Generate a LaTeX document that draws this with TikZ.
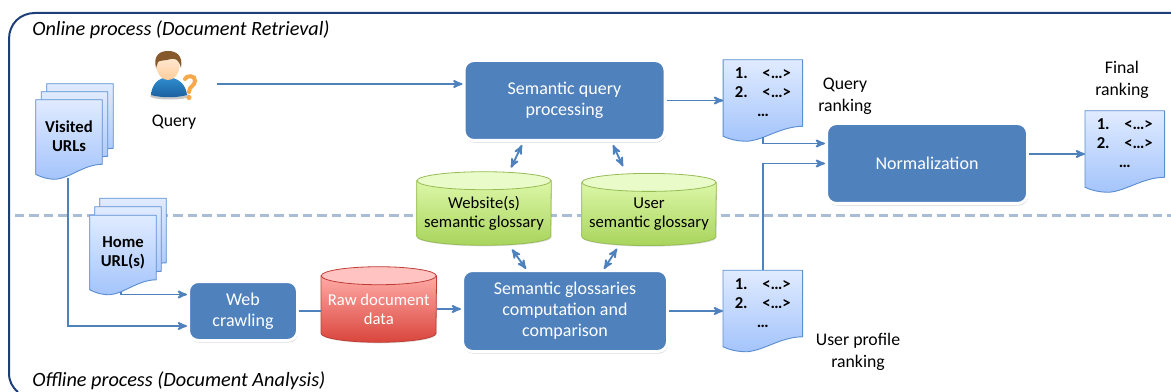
\documentclass[tikz,border=0pt]{standalone}
\usepackage{fontspec}
\setmainfont{Carlito}
\usetikzlibrary{arrows,calc,positioning,backgrounds,shadows}
\definecolor{boxblue}{HTML}{4F81BD}
\definecolor{framenavy}{HTML}{1F3F7A}
\definecolor{splitblue}{HTML}{A9BDD6}
\definecolor{pagetop}{HTML}{E0EBFF}
\definecolor{pagelow}{HTML}{A4C4FB}
\definecolor{pageline}{HTML}{5B8FD0}
\definecolor{greentop}{HTML}{DCF7A8}
\definecolor{greenlow}{HTML}{A8D45C}
\definecolor{greencap}{HTML}{E8FBC8}
\definecolor{greenline}{HTML}{98BC55}
\definecolor{redtop}{HTML}{FFABA7}
\definecolor{redlow}{HTML}{D9453C}
\definecolor{redcap}{HTML}{FFC4C1}
\definecolor{redline}{HTML}{BF3D36}
\definecolor{askerblue}{HTML}{2F8FD0}
\definecolor{askerdeep}{HTML}{1B5E9E}
\definecolor{askerorange}{HTML}{F5A94A}
\newcommand{\wavepage}[1]{%
  \begin{scope}[on background layer]
    \shadedraw[pageshade] (#1.north west) -- (#1.north east)
      -- ($(#1.south east)+(0,11.25pt)$)
      .. controls ($(#1.south west)!.72!(#1.south east)+(0,11pt)$) and ($(#1.south west)!.52!(#1.south east)+(0,1pt)$) .. ($(#1.south west)!.3!(#1.south east)$)
      .. controls ($(#1.south west)!.18!(#1.south east)$) and ($(#1.south west)!.08!(#1.south east)+(0,1.5pt)$) .. ($(#1.south west)+(0,3.75pt)$)
      -- cycle;
  \end{scope}}
\newcommand{\dbcan}[6]{%
  \begin{scope}[on background layer]
    \shadedraw[top color=#3,bottom color=#4,draw=#6,line width=.6pt,drop shadow={shadow xshift=.6pt,shadow yshift=-.8pt,opacity=.25}]
      (#1.north west) -- ($(#1.south west)+(0,6.75pt)$)
      arc[start angle=180,end angle=360,x radius=#2,y radius=6.75pt]
      -- (#1.north east) -- cycle;
    \filldraw[fill=#5,draw=#6,line width=.6pt] (#1.north) ellipse[x radius=#2,y radius=6.75pt];
  \end{scope}}
\newcommand{\ranklist}{1.\hspace{11pt}<…>\\2.\hspace{11pt}<…>\\…}
\tikzset{
  flow/.style={->,>=stealth',draw=boxblue,line width=1.4pt},
  flowtwo/.style={flow,<->},
  flowplain/.style={draw=boxblue,line width=1.4pt},
  bluebox/.style args={#1,#2}{
    rounded corners=2.6mm,
    fill=boxblue,
    draw=white,
    line width=2.25pt,
    text=white,
    align=center,
    font=\fontsize{13.5}{15.75}\selectfont,
    minimum width=#1pt,
    minimum height=#2pt,
    drop shadow={shadow xshift=.6pt,shadow yshift=-1.6pt,opacity=.3}
  },
  pageshade/.style={top color=pagetop,bottom color=pagelow,draw=pageline,line width=.7pt},
  pagenode/.style args={#1,#2}{
    inner sep=0pt,
    align=center,
    font=\fontsize{12.5}{14.25}\selectfont\bfseries,
    minimum width=#1pt,
    minimum height=#2pt
  },
  ranknode/.style={pagenode={59.25,60.75},text depth=12pt},
  stacknode/.style={pagenode={49.5,59.25},text depth=5.5pt},
  cannode/.style args={#1,#2}{
    inner sep=0pt,
    align=center,
    font=\fontsize{12.5}{14.25}\selectfont,
    minimum width=#1pt,
    minimum height=#2pt
  },
  caption/.style={align=center,inner sep=0pt,font=\fontsize{13.3}{16.5}\selectfont},
  zonelabel/.style={anchor=west,inner sep=0pt,font=\fontsize{15.2}{18}\selectfont\itshape}
}
\begin{document}
\begin{tikzpicture}[x=0.75pt,y=-0.75pt]
  \useasboundingbox (0,0) rectangle (1171,392);

  % frame and split line
  \begin{scope}[on background layer]
    \draw[framenavy,line width=1.5pt] (1171,13) -- (35,13)
      .. controls (20,13) and (9,24) .. (9,39) -- (9,373)
      .. controls (9,381) and (12,387) .. (18,392);
    \draw[splitblue,line width=2.25pt,dash pattern=on 7pt off 3.8pt] (15,216) -- (1171,216);
  \end{scope}

  \node [zonelabel] (online) at (32,30) {Online process (Document Retrieval)};
  \node [zonelabel] (offline) at (32,381) {Offline process (Document Analysis)};

  % boxes
  \node [bluebox={150.75,60}] (qbox) at (564.5,100.5) {Semantic query\\processing};
  \node [bluebox={150.75,60}] (nbox) at (927,163.5) {Normalization};
  \node [bluebox={153.75,60.75}] (cbox) at (565,311) {Semantic glossaries\\computation and\\comparison};
  \node [bluebox={81.75,44.25}] (crawl) at (243,311) {Web\\crawling};

  % cans
  \node [cannode={86.25,49.5},text=white,right=16.5pt of crawl,yshift=1.5pt] (raw) {Raw document\\data};
  \node [cannode={100.5,48}] (wgloss) at (484,213) {Website(s)\\semantic glossary};
  \node [cannode={100.5,47}] (ugloss) at (649,214) {User\\semantic glossary};
  \dbcan{raw}{43.1pt}{redtop}{redlow}{redcap}{redline}
  \dbcan{wgloss}{50.25pt}{greentop}{greenlow}{greencap}{greenline}
  \dbcan{ugloss}{50.25pt}{greentop}{greenlow}{greencap}{greenline}

  % rankings
  \node [ranknode,right=42.5pt of qbox] (qrank) {\ranklist};
  \node [ranknode,right=42pt of nbox,yshift=9pt] (frank) {\ranklist};
  \node [ranknode,right=40.5pt of cbox] (urank) {\ranklist};
  \wavepage{qrank}
  \wavepage{frank}
  \wavepage{urank}

  % stacked pages
  \node [stacknode] (vback) at (80,123.5) {};
  \node [stacknode] (vmid) at (74.5,131.5) {};
  \node [stacknode] (visited) at (69,139.5) {Visited\\URLs};
  \node [stacknode] (hback) at (133,238) {};
  \node [stacknode] (hmid) at (128,246.5) {};
  \node [stacknode] (home) at (123,255) {Home\\URL(s)};
  \wavepage{vback}
  \wavepage{vmid}
  \wavepage{visited}
  \wavepage{hback}
  \wavepage{hmid}
  \wavepage{home}

  % asker
  \fill[black!22] (170,96) ellipse[x radius=20,y radius=3.5];
  \shade[top color=askerblue,bottom color=askerdeep] (151,95)
    .. controls (152,84) and (158,78) .. (168,77) .. controls (178,78) and (186,84) .. (187,95)
    .. controls (176,98) and (162,98) .. (151,95) -- cycle;
  \shade[top color=orange!12,bottom color=orange!40] (168,66) ellipse[x radius=11.5,y radius=14];
  \fill[brown!70!black] (156,68) .. controls (153,55) and (160,51) .. (168,51)
    .. controls (177,51) and (183,56) .. (181,68) .. controls (179,60) and (176,58) .. (171,59)
    .. controls (165,61) and (160,60) .. (158,62) -- cycle;
  \draw[askerorange,line width=3pt,line cap=round] (185,79)
    .. controls (186,75) and (196,75) .. (195,81) .. controls (195,86) and (189,86) .. (189,92);
  \fill[askerorange] (189,97.5) circle[radius=2.6];

  \node [caption] (qlabel) at (174,122) {Query};
  \node [caption] (qcap) at (845,96) {Query\\ranking};
  \node [caption] (fcap) at (1122,79.5) {Final\\ranking};
  \node [caption] (ucap) at (858,352) {User profile\\ranking};

  % connectors
  \coordinate (qstart) at (217,84);
  \coordinate (qrankout) at ($(qrank.south)+(0,-4)$);
  \coordinate (homeout) at ($(home.south)+(-2,-3)$);
  \coordinate (visitout) at ($(visited.south)+(-1,-1)$);
  \coordinate (nin) at ($(nbox.west)+(0,-20)$);
  \coordinate (nout) at ($(nbox.east)+(0,-9.5)$);
  \coordinate (cin1) at ($(crawl.west)+(0,-16.5)$);
  \coordinate (cin2) at ($(crawl.west)+(0,15)$);

  \draw [flow] (qstart) -- (qstart -| qbox.west);
  \draw [flow] (qbox.east) -- (qbox.east -| qrank.west);
  \draw [flow] (qrankout) |- (nin);
  \draw [flow] (urank.north) |- (nbox.west);
  \draw [flow] (nout) -- (nout -| frank.west);
  \draw [flow] (visitout) |- (cin2);
  \draw [flow] (homeout) |- (cin1);
  \draw [flowplain] (crawl.east) -- (crawl.east -| raw.west);
  \draw [flow] (raw.east) -- (raw.east -| cbox.west);
  \draw [flow] (cbox.east) -- (cbox.east -| urank.west);

  \draw [flowtwo] ($(qbox.south)+(-42.5,3)$) -- ($(wgloss.north)+(27,-13)$);
  \draw [flowtwo] ($(qbox.south)+(48.5,3)$) -- ($(ugloss.north)+(-26,-16)$);
  \draw [flowtwo] ($(wgloss.south)+(28,4)$) -- ($(cbox.north)+(-39,0)$);
  \draw [flowtwo] ($(ugloss.south)+(-32,3)$) -- ($(cbox.north)+(39,0)$);
\end{tikzpicture}
\end{document}
